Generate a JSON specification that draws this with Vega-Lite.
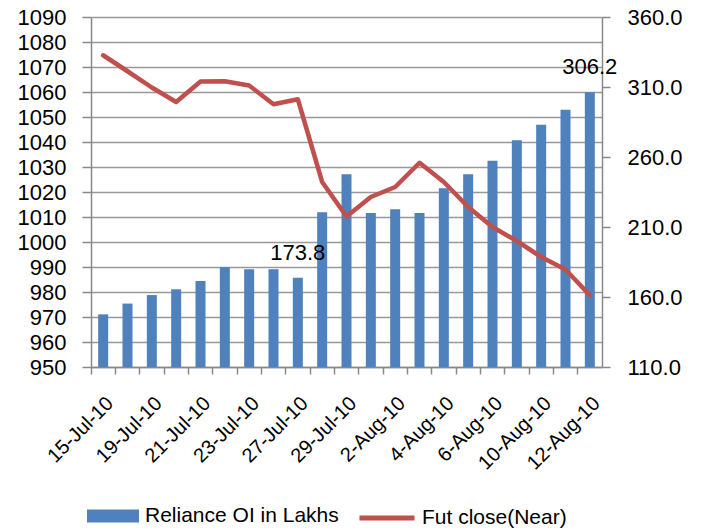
{
  "$schema": "https://vega.github.io/schema/vega-lite/v6.json",
  "width": 511,
  "height": 350,
  "autosize": {"type": "none"},
  "padding": {"left": 91, "top": 17, "right": 102, "bottom": 164},
  "background": "white",
  "config": {
    "view": {"stroke": null},
    "font": "Liberation Sans",
    "axis": {
      "labelFont": "Liberation Sans",
      "labelFontSize": 22,
      "labelColor": "#000000",
      "domainColor": "#888888",
      "tickColor": "#888888",
      "domainWidth": 1.5,
      "tickWidth": 1.5,
      "title": null
    },
    "legend": {
      "labelFont": "Liberation Sans",
      "labelFontSize": 21,
      "labelColor": "#000000",
      "labelLimit": 400,
      "padding": 0,
      "orient": "none",
      "title": null
    }
  },
  "data": {
    "values": [
      {"date": "15-Jul-10", "oi": 147.6, "fut": 1074.7},
      {"date": "16-Jul-10", "oi": 155.3, "fut": 1068.3},
      {"date": "19-Jul-10", "oi": 161.4, "fut": 1061.8},
      {"date": "20-Jul-10", "oi": 165.5, "fut": 1056.0},
      {"date": "21-Jul-10", "oi": 171.4, "fut": 1064.2},
      {"date": "22-Jul-10", "oi": 181.2, "fut": 1064.3},
      {"date": "23-Jul-10", "oi": 179.8, "fut": 1062.6},
      {"date": "26-Jul-10", "oi": 179.8, "fut": 1055.1},
      {"date": "27-Jul-10", "oi": 173.8, "fut": 1057.1},
      {"date": "28-Jul-10", "oi": 220.5, "fut": 1024.0},
      {"date": "29-Jul-10", "oi": 247.6, "fut": 1010.2},
      {"date": "30-Jul-10", "oi": 220.0, "fut": 1018.0},
      {"date": "2-Aug-10", "oi": 222.6, "fut": 1022.0},
      {"date": "3-Aug-10", "oi": 220.0, "fut": 1031.7},
      {"date": "4-Aug-10", "oi": 237.6, "fut": 1024.0},
      {"date": "5-Aug-10", "oi": 247.6, "fut": 1014.0},
      {"date": "6-Aug-10", "oi": 257.4, "fut": 1006.0},
      {"date": "9-Aug-10", "oi": 271.9, "fut": 1000.4},
      {"date": "10-Aug-10", "oi": 283.1, "fut": 994.0},
      {"date": "11-Aug-10", "oi": 293.8, "fut": 989.0},
      {"date": "12-Aug-10", "oi": 306.2, "fut": 978.7}
    ]
  },
  "encoding": {
    "x": {
      "field": "date",
      "type": "nominal",
      "sort": null,
      "scale": {"paddingInner": 0, "paddingOuter": 0},
      "axis": {
        "labelFontSize": 20,
        "labelAngle": -45,
        "labelAlign": "right",
        "labelBaseline": "middle",
        "tickSize": 7,
        "bandPosition": 0,
        "labelOffset": 7,
        "labelPadding": 26,
        "labelOverlap": false,
        "labelBound": false,
        "grid": false,
        "labelExpr": "indexof(['15-Jul-10','19-Jul-10','21-Jul-10','23-Jul-10','27-Jul-10','29-Jul-10','2-Aug-10','4-Aug-10','6-Aug-10','10-Aug-10','12-Aug-10'], datum.value) >= 0 ? datum.value : ''"
      }
    }
  },
  "layer": [
    {
      "encoding": {
        "y": {
          "field": "oi",
          "type": "quantitative",
          "scale": {"domain": [110, 360], "nice": false, "zero": false},
          "axis": {
            "orient": "right",
            "values": [110, 160, 210, 260, 310, 360],
            "format": ".1f",
            "tickSize": 8,
            "labelPadding": 17,
            "grid": false
          }
        }
      },
      "layer": [
        {
          "mark": {"type": "bar", "size": 10, "color": "#4f81bd"},
          "encoding": {
            "y2": {"datum": 110},
            "fill": {
              "datum": "Reliance OI in Lakhs",
              "type": "nominal",
              "scale": {"range": ["#4f81bd"]},
              "legend": {
                "symbolType": "M-1,-0.25H1V0.25H-1Z",
                "symbolSize": 2704,
                "symbolStrokeWidth": 0,
                "labelOffset": 6,
                "legendX": -4,
                "legendY": 473
              }
            }
          }
        },
        {
          "transform": [{"filter": "datum.date == '27-Jul-10' || datum.date == '12-Aug-10'"}],
          "mark": {"type": "text", "fontSize": 22, "color": "#000000", "baseline": "alphabetic", "dy": -18, "font": "Liberation Sans"},
          "encoding": {
            "text": {"field": "oi", "type": "quantitative", "format": ".1f"}
          }
        }
      ]
    },
    {
      "mark": {"type": "line", "strokeWidth": 4.5, "color": "#c0504d", "strokeJoin": "round", "strokeCap": "round"},
      "encoding": {
        "y": {
          "field": "fut",
          "type": "quantitative",
          "scale": {"domain": [950, 1090], "nice": false, "zero": false},
          "axis": {
            "orient": "left",
            "values": [950, 960, 970, 980, 990, 1000, 1010, 1020, 1030, 1040, 1050, 1060, 1070, 1080, 1090],
            "format": "d",
            "tickSize": 9,
            "labelPadding": 16,
            "grid": true,
            "gridColor": "#999999",
            "gridWidth": 1.3
          }
        },
        "stroke": {
          "datum": "Fut close(Near)",
          "type": "nominal",
          "scale": {"range": ["#c0504d"]},
          "legend": {
            "symbolType": "stroke",
            "symbolSize": 3025,
            "symbolStrokeWidth": 5,
            "labelOffset": 5,
            "legendX": 266,
            "legendY": 471
          }
        }
      }
    }
  ],
  "resolve": {"scale": {"y": "independent"}}
}
